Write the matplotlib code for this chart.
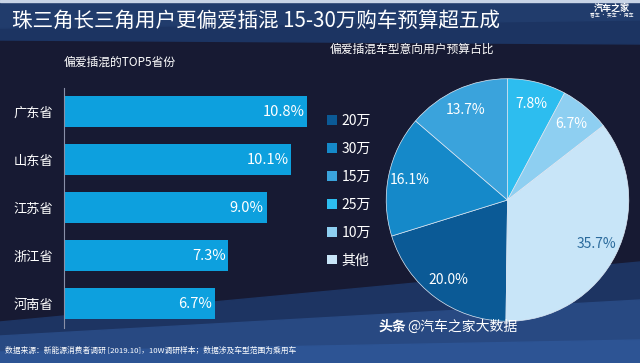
import matplotlib.pyplot as plt
from matplotlib.patches import Polygon, Rectangle

plt.rcParams['font.family'] = ['Noto Sans CJK SC', 'DejaVu Sans']

provinces = ['广东省', '山东省', '江苏省', '浙江省', '河南省']
shares = [10.8, 10.1, 9.0, 7.3, 6.7]

budget_labels = ['20万', '30万', '15万', '25万', '10万', '其他']
budget_shares = [20.0, 16.1, 13.7, 7.8, 6.7, 35.7]
budget_colors = ['#0b5a96', '#1589c9', '#3aa3dc', '#2dbdef', '#8ecff1', '#c8e5f8']

W, H = 640, 363
fig = plt.figure(figsize=(W / 100, H / 100), dpi=100)
fig.patch.set_facecolor('#171a33')


def px(x, y):
    # pixel coords (top-left origin) -> figure fraction
    return x / W, 1 - y / H


# background bands
bg = fig.add_axes([0, 0, 1, 1], zorder=-5)
bg.set_xlim(0, W)
bg.set_ylim(H, 0)
bg.axis('off')
bg.add_patch(Polygon([(0, 0), (W, 0), (W, 44), (0, 40)], color='#1c3462'))
bg.add_patch(Polygon([(0, 0), (W, 0), (W, 20), (0, 28)], color='#213c6c'))
bg.add_patch(Rectangle((0, 0), W, 2, color='#c8d4e6'))
bg.add_patch(Polygon([(0, 322), (W, 262), (W, H), (0, H)], color='#1d3462'))
bg.add_patch(Polygon([(0, 336), (W, 300), (W, H), (0, H)], color='#284982'))
bg.add_patch(Polygon([(0, 352), (W, 340), (W, H), (0, H)], color='#2d5494'))

# title
fig.text(*px(12, 21), '珠三角长三角用户更偏爱插混 15-30万购车预算超五成',
         color='white', fontsize=14.8, va='center', ha='left')
fig.text(*px(612, 8), '汽车之家', color='white', fontsize=6.5, fontweight='bold',
         ha='center', va='center')
fig.text(*px(612, 16), '看车 · 买车 · 用车', color='white', fontsize=3.5,
         ha='center', va='center')
fig.text(*px(120, 62), '偏爱插混的TOP5省份', color='white', fontsize=8.5,
         ha='center', va='center')
fig.text(*px(412, 49), '偏爱插混车型意向用户预算占比', color='white', fontsize=8.5,
         ha='center', va='center')

# bar chart
l, b = px(64, 327.5)
ax = fig.add_axes([l, b, 270 / W, 240 / H])
ax.set_facecolor('none')
y = list(range(len(provinces)))
ax.barh(y, shares, height=0.66, color='#0da0de')
ax.set_xlim(0, 12)
ax.set_ylim(4.5, -0.5)
ax.set_yticks(y)
ax.set_yticklabels(provinces, color='white', fontsize=9.5)
ax.tick_params(axis='y', length=0, pad=8)
ax.set_xticks([])
for s in ['top', 'right', 'bottom']:
    ax.spines[s].set_visible(False)
ax.spines['left'].set_color('#8a90a8')
ax.spines['left'].set_linewidth(0.8)
for i, v in enumerate(shares):
    ax.text(v - 0.12, i, f'{v:.1f}%', color='white', fontsize=10.5,
            ha='right', va='center')

# pie chart
l, b = px(385, 322.5)
pax = fig.add_axes([l, b, 245 / W, 245 / H])
pax.set_facecolor('none')
start = 90 + sum(budget_shares[:3]) / 100 * 360
wedges, texts, autotexts = pax.pie(
    budget_shares, colors=budget_colors, startangle=start, counterclock=False,
    radius=1, autopct='%.1f%%', pctdistance=0.82,
    wedgeprops=dict(edgecolor='#dfeaf6', linewidth=0.5),
    textprops=dict(color='white', fontsize=10))
autotexts[-1].set_color('#2a6a9c')
pax.set_xlim(-1.01, 1.01)
pax.set_ylim(-1.01, 1.01)
pax.set_aspect('equal')

leg = fig.legend(wedges, budget_labels, loc='upper left',
                 bbox_to_anchor=px(327, 114), frameon=False,
                 handlelength=0.7, handleheight=0.7, handletextpad=0.35,
                 labelspacing=1.0, fontsize=10, labelcolor='white',
                 borderaxespad=0, borderpad=0)
for h in leg.legend_handles:
    h.set_edgecolor('none')

# footer
fig.text(*px(378, 327), '头条', color='white', fontsize=10,
         fontweight='bold', ha='left', va='center')
fig.text(*px(407, 327), '@汽车之家大数据', color='white', fontsize=10,
         ha='left', va='center')
fig.text(*px(5, 351), '数据来源：新能源消费者调研 [2019.10]，10W调研样本；数据涉及车型范围为乘用车',
         color='white', fontsize=5.6, ha='left', va='center')

fig.savefig('out.png', dpi=100, facecolor=fig.get_facecolor())
